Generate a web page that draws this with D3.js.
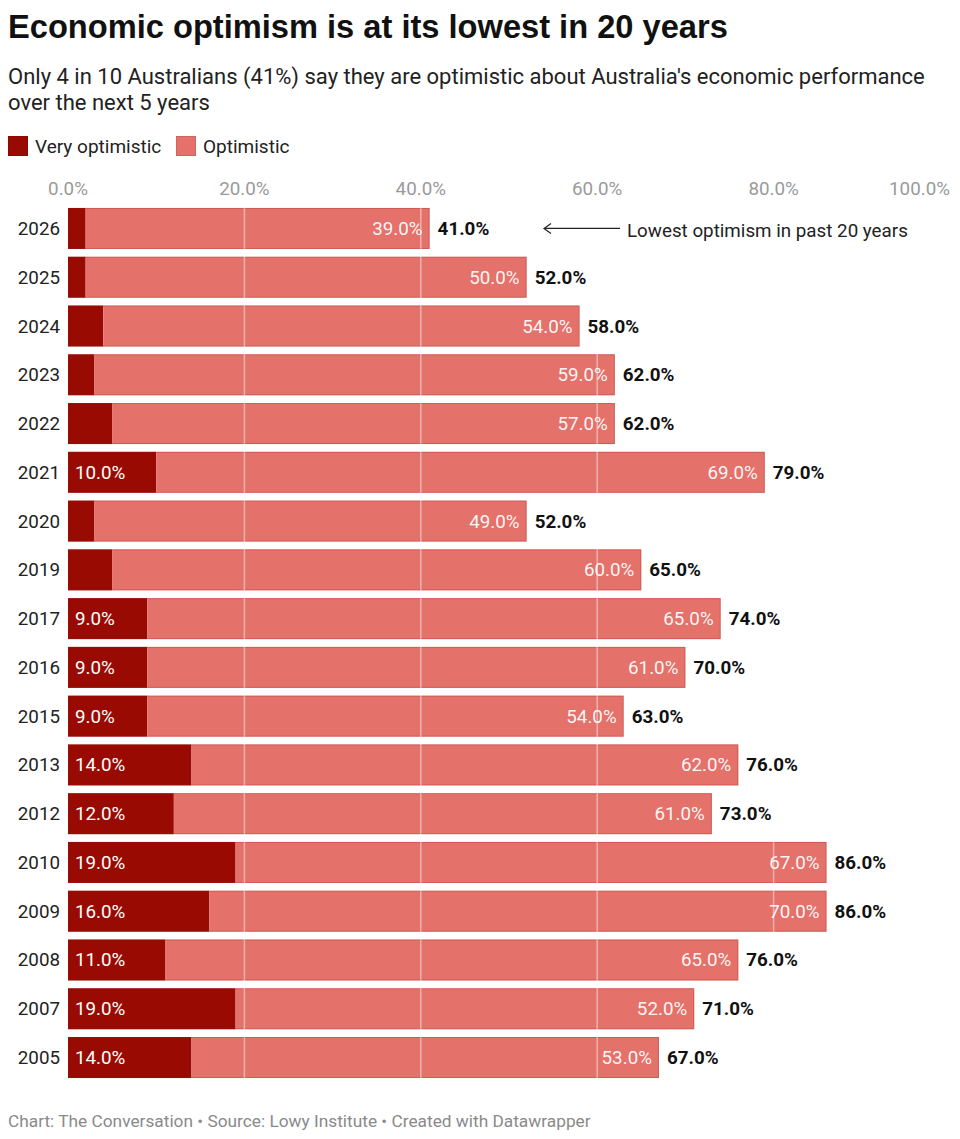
<!DOCTYPE html>
<html><head><meta charset="utf-8">
<script src="https://cdn.jsdelivr.net/npm/d3@7/dist/d3.min.js"></script>
<style>
body{margin:0;background:#fff;font-family:Roboto,"Noto Sans",sans-serif;}
</style></head>
<body><svg id="c" width="960" height="1139"></svg>
<script>
const years = ["2026","2025","2024","2023","2022","2021","2020","2019","2017","2016","2015","2013","2012","2010","2009","2008","2007","2005"];
const veryOptimistic = [2,2,4,3,5,10,3,5,9,9,9,14,12,19,16,11,19,14];
const optimistic = [39,50,54,59,57,69,49,60,65,61,54,62,61,67,70,65,52,53];
const totals = [41,52,58,62,62,79,52,65,74,70,63,76,73,86,86,76,71,67];
const ticks = [0,20,40,60,80,100];

const svg = d3.select("#c");
const dark = "#990b02", light = "#e4726b";
const x = d3.scaleLinear().domain([0,100]).range([68,950]);
const y = d3.scaleBand().domain(years).range([206.5,1079.5]).paddingInner(0.159).paddingOuter(0.03);
const fmt = v => v.toFixed(1) + "%";

const title = svg.append("text").attr("x",8).attr("y",38).attr("font-family","'Liberation Sans',Arial,sans-serif")
  .attr("font-size",28).attr("font-weight",700).attr("fill","#111")
  .text("Economic optimism is at its lowest in 20 years");
const tw = title.node().getComputedTextLength();
title.attr("font-size", 28*720/tw);

svg.append("text").attr("x",8).attr("y",84).attr("font-size",22).attr("fill","#222")
  .text("Only 4 in 10 Australians (41%) say they are optimistic about Australia's economic performance");
svg.append("text").attr("x",8).attr("y",110).attr("font-size",22).attr("fill","#222").text("over the next 5 years");

const legend = [["Very optimistic",dark,8],["Optimistic",light,176]];
legend.forEach(([t,c,lx])=>{
  svg.append("rect").attr("x",lx+0.5).attr("y",136.5).attr("width",19).attr("height",19).attr("fill",c)
    .attr("stroke",d3.color(c).darker(0.3)).attr("stroke-width",1);
  svg.append("text").attr("x",lx+27).attr("y",153).attr("font-size",19).attr("fill","#222").text(t);
});

ticks.forEach(t=>{
  svg.append("text").attr("x", t===100 ? 950 : x(t)).attr("y",195)
    .attr("text-anchor", t===100 ? "end" : "middle").attr("font-size",18.8).attr("fill","#9a9a9a").text(fmt(t));
});

const g = svg.append("g");
years.forEach((yr,i)=>{
  const yy = y(yr), h = y.bandwidth();
  g.append("rect").attr("x",x(0)).attr("y",yy).attr("width",x(veryOptimistic[i])-x(0)).attr("height",h).attr("fill",dark);
  g.append("rect").attr("x",x(veryOptimistic[i])).attr("y",yy).attr("width",x(totals[i])-x(veryOptimistic[i])).attr("height",h).attr("fill",light);
  g.append("rect").attr("x",x(0)+0.5).attr("y",yy+0.5).attr("width",x(totals[i])-x(0)-1).attr("height",h-1)
    .attr("fill","none").attr("stroke","#8a1a12").attr("stroke-opacity",0.25).attr("stroke-width",1);
  g.append("text").attr("x",60).attr("y",yy+h/2+6.5).attr("text-anchor","end").attr("font-size",18.8).attr("fill","#222").text(yr);
});
// gridlines over bars
[20,40,60,80].forEach(t=>{
  g.append("line").attr("x1",x(t)).attr("x2",x(t)).attr("y1",y(years[0])).attr("y2",y(years[years.length-1])+y.bandwidth())
   .attr("stroke","#ffffff").attr("stroke-opacity",0.45).attr("stroke-width",1.5);
});
years.forEach((yr,i)=>{
  const yy = y(yr), h = y.bandwidth(), cy = yy+h/2+6.5;
  if (veryOptimistic[i] >= 9)
    g.append("text").attr("x",x(0)+7).attr("y",cy).attr("font-size",18.8).attr("fill","#fff").text(fmt(veryOptimistic[i]));
  g.append("text").attr("x",x(totals[i])-7).attr("y",cy).attr("text-anchor","end").attr("font-size",18.8).attr("fill","#fff").attr("fill-opacity",0.95).text(fmt(optimistic[i]));
  g.append("text").attr("x",x(totals[i])+8).attr("y",cy).attr("font-size",18.8).attr("font-weight",700).attr("fill","#111").text(fmt(totals[i]));
});

// annotation
const ay = y(years[0]) + y.bandwidth()/2;
svg.append("line").attr("x1",545).attr("x2",620).attr("y1",ay).attr("y2",ay).attr("stroke","#222").attr("stroke-width",1.2);
svg.append("path").attr("d",`M551,${ay-5} L544,${ay} L551,${ay+5}`).attr("fill","none").attr("stroke","#222").attr("stroke-width",1.2);
svg.append("text").attr("x",627).attr("y",ay+9).attr("font-size",18.8).attr("fill","#222").text("Lowest optimism in past 20 years");

svg.append("text").attr("x",8).attr("y",1127).attr("font-size",17.3).attr("fill","#8a8a8a")
  .text("Chart: The Conversation • Source: Lowy Institute • Created with Datawrapper");
</script></body></html>
